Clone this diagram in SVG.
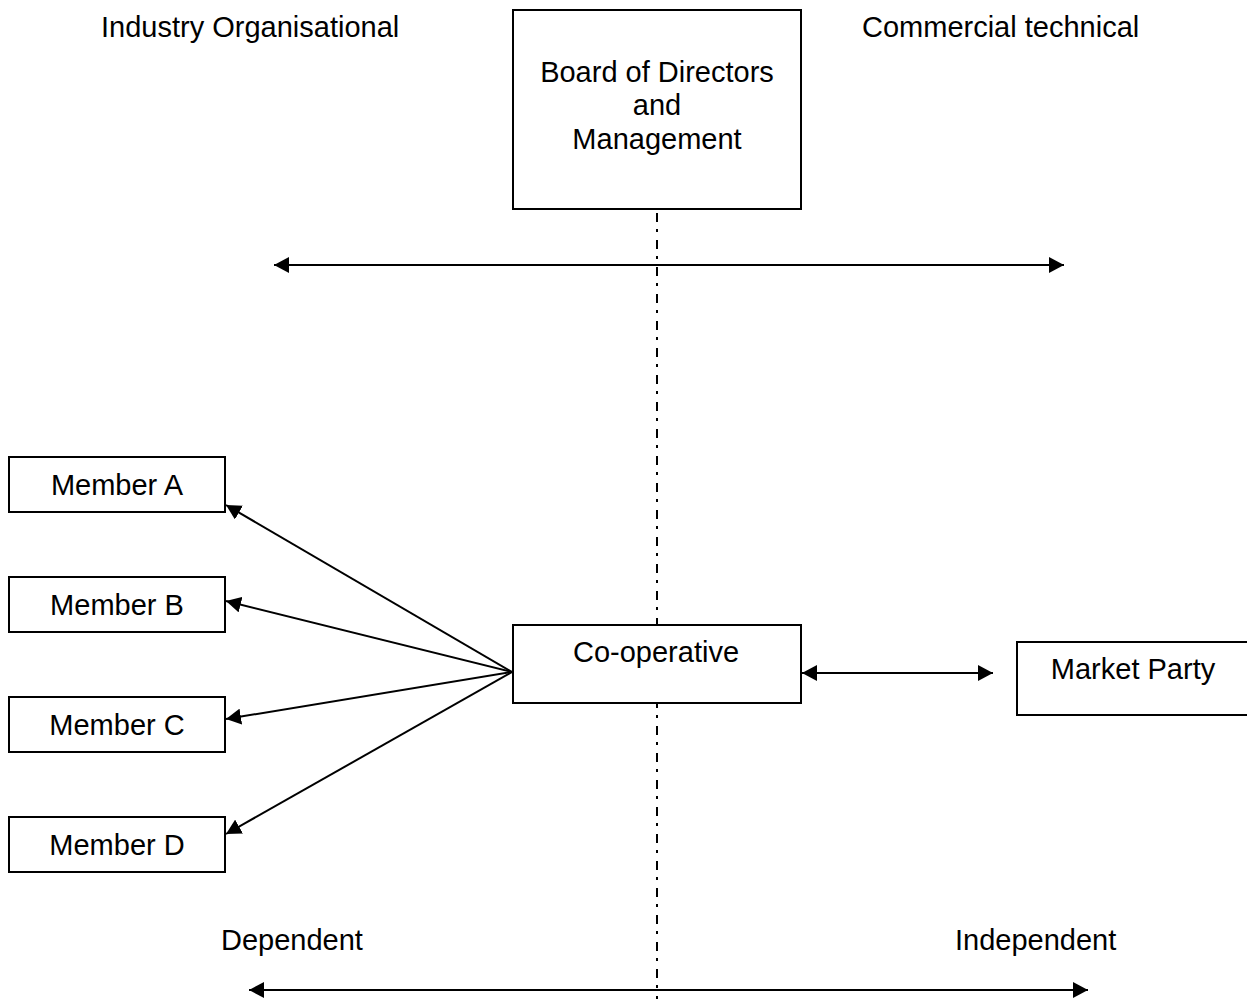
<svg xmlns="http://www.w3.org/2000/svg" width="1247" height="999" viewBox="0 0 1247 999">
<style>
text{font-family:"Liberation Sans",Arial,sans-serif;font-size:29px;fill:#000}
.box{fill:#fff;stroke:#000;stroke-width:2}
.ln{stroke:#000;stroke-width:2;fill:none}
.dd{stroke:#000;stroke-width:2;fill:none;stroke-dasharray:9 7 3 8}
.c{text-anchor:middle}
</style>
<defs>
<marker id="ah" viewBox="0 0 15 16" refX="15" refY="8" markerWidth="15" markerHeight="16" markerUnits="userSpaceOnUse" orient="auto-start-reverse">
<path d="M0,0 L15,8 L0,16 Z" fill="#000"/>
</marker>
</defs>
<rect width="1247" height="999" fill="#fff"/>
<g id="labels">
<text x="101" y="37">Industry Organisational</text>
<text x="862" y="37">Commercial technical</text>
<text x="221" y="950">Dependent</text>
<text x="955" y="950">Independent</text>
</g>
<g id="connectors">
<line class="dd" x1="657" y1="213" x2="657" y2="999"/>
<line class="ln" x1="274" y1="265" x2="1064" y2="265" marker-start="url(#ah)" marker-end="url(#ah)"/>
<line class="ln" x1="249" y1="990" x2="1088" y2="990" marker-start="url(#ah)" marker-end="url(#ah)"/>
<line class="ln" x1="802" y1="673" x2="993" y2="673" marker-start="url(#ah)" marker-end="url(#ah)"/>
<line class="ln" x1="512" y1="672" x2="226" y2="505" marker-end="url(#ah)"/>
<line class="ln" x1="512" y1="672" x2="226" y2="601" marker-end="url(#ah)"/>
<line class="ln" x1="512" y1="672" x2="226" y2="719" marker-end="url(#ah)"/>
<line class="ln" x1="512" y1="672" x2="226" y2="834" marker-end="url(#ah)"/>
</g>
<g id="board">
<rect class="box" x="513" y="10" width="288" height="199"/>
<text class="c" x="657" y="82">Board of Directors</text>
<text class="c" x="657" y="115">and</text>
<text class="c" x="657" y="149">Management</text>
</g>
<g id="coop">
<rect class="box" x="513" y="625" width="288" height="78"/>
<text class="c" x="656" y="662">Co-operative</text>
</g>
<g id="market">
<rect class="box" x="1017" y="642" width="250" height="73"/>
<text class="c" x="1133" y="679">Market Party</text>
</g>
<g id="memberA">
<rect class="box" x="9" y="457" width="216" height="55"/>
<text class="c" x="117" y="495">Member A</text>
</g>
<g id="memberB">
<rect class="box" x="9" y="577" width="216" height="55"/>
<text class="c" x="117" y="615">Member B</text>
</g>
<g id="memberC">
<rect class="box" x="9" y="697" width="216" height="55"/>
<text class="c" x="117" y="735">Member C</text>
</g>
<g id="memberD">
<rect class="box" x="9" y="817" width="216" height="55"/>
<text class="c" x="117" y="855">Member D</text>
</g>
</svg>
